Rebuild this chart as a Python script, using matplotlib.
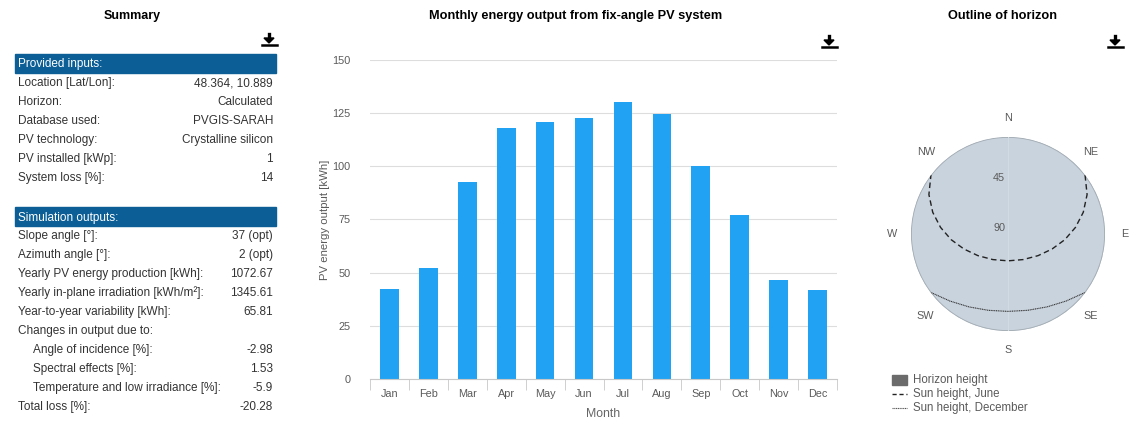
import numpy as np
import matplotlib
matplotlib.use("Agg")
import matplotlib.pyplot as plt
from matplotlib.patches import Polygon, Rectangle
from matplotlib.lines import Line2D

# Figure size in pixels
W, H = 1142, 433

# Monthly PV output [kWh]
months = ['Jan', 'Feb', 'Mar', 'Apr', 'May', 'Jun', 'Jul', 'Aug', 'Sep', 'Oct', 'Nov', 'Dec']
energy = [42.3, 52.2, 92.6, 118.0, 120.8, 122.7, 130.2, 124.6, 100.1, 77.1, 46.5, 41.8]
yticks = [0, 25, 50, 75, 100, 125, 150]

# Summary table
inputs_labels = ['Location [Lat/Lon]:', 'Horizon:', 'Database used:', 'PV technology:',
                 'PV installed [kWp]:', 'System loss [%]:']
inputs_values = ['48.364, 10.889', 'Calculated', 'PVGIS-SARAH', 'Crystalline silicon', '1', '14']
outputs_labels = ['Slope angle [°]:', 'Azimuth angle [°]:', 'Yearly PV energy production [kWh]:',
                  'Yearly in-plane irradiation [kWh/m²]:', 'Year-to-year variability [kWh]:',
                  'Changes in output due to:', 'Angle of incidence [%]:', 'Spectral effects [%]:',
                  'Temperature and low irradiance [%]:', 'Total loss [%]:']
outputs_values = ['37 (opt)', '2 (opt)', '1072.67', '1345.61', '65.81', '',
                  '-2.98', '1.53', '-5.9', '-20.28']
outputs_indent = [0, 0, 0, 0, 0, 0, 1, 1, 1, 0]

# Sun paths (azimuth from north [deg], elevation [deg])
june_az = [52.6, 63.5, 73.9, 84.4, 95.7, 108.8, 125.7, 149.3, 180.0,
           210.7, 234.3, 251.2, 264.3, 275.6, 286.1, 296.5, 307.4]
june_el = [0.0, 8.0, 17.3, 27.1, 37.0, 46.8, 55.6, 62.4, 65.1,
           62.4, 55.6, 46.8, 37.0, 27.1, 17.3, 8.0, 0.0]
dec_az = [127.4, 139.1, 151.9, 165.6, 180.0, 194.4, 208.1, 220.9, 232.6]
dec_el = [0.4, 7.7, 13.3, 16.9, 18.2, 16.9, 13.3, 7.7, 0.4]
compass = ['N', 'NE', 'E', 'SE', 'S', 'SW', 'W', 'NW']
compass_az = [0, 45, 90, 135, 180, 225, 270, 315]

plt.rcParams['font.family'] = ['Liberation Sans', 'DejaVu Sans']

BLUE = '#22a2f2'
HEAD = '#0b5f96'
TXT = '#333333'
GREY = '#5a5a5a'


def fx(x):
    return x / W


def fy(y):
    return 1 - y / H


fig = plt.figure(figsize=(W / 100, H / 100), dpi=100)


# Function: download icon
def download_icon(cx, cy):
    fig.add_artist(Line2D([fx(cx), fx(cx)], [fy(cy - 6), fy(cy - 1)], color='black', lw=2.4))
    fig.add_artist(Polygon([(fx(cx - 5), fy(cy - 2)), (fx(cx + 5), fy(cy - 2)), (fx(cx), fy(cy + 3))],
                           closed=True, color='black', transform=fig.transFigure))
    fig.add_artist(Line2D([fx(cx - 7.5), fx(cx + 7.5)], [fy(cy + 5), fy(cy + 5)], color='black', lw=1.8))


######################## Summary ####################################

fig.text(fx(132), fy(16), 'Summary', ha='center', va='center', fontsize=9, fontweight='bold')
download_icon(269, 40)


def header(y0, text):
    fig.add_artist(Rectangle((fx(15), fy(y0 + 19)), 261 / W, 19 / H, color=HEAD,
                             transform=fig.transFigure))
    fig.text(fx(18), fy(y0 + 10.5), text, ha='left', va='center', fontsize=8.5, color='white')


header(54, 'Provided inputs:')
for i, (lab, val) in enumerate(zip(inputs_labels, inputs_values)):
    y = 83 + 19 * i
    fig.text(fx(18), fy(y), lab, ha='left', va='center', fontsize=8.5, color=TXT)
    fig.text(fx(273), fy(y), val, ha='right', va='center', fontsize=8.5, color=TXT)

header(207, 'Simulation outputs:')
for i, (lab, val) in enumerate(zip(outputs_labels, outputs_values)):
    y = 236 + 19 * i
    fig.text(fx(18 + 15 * outputs_indent[i]), fy(y), lab, ha='left', va='center', fontsize=8.5, color=TXT)
    fig.text(fx(273), fy(y), val, ha='right', va='center', fontsize=8.5, color=TXT)

######################## Monthly bars ####################################

fig.text(fx(576), fy(16), 'Monthly energy output from fix-angle PV system', ha='center', va='center',
         fontsize=9.2, fontweight='bold')
download_icon(829, 42)

ax2 = fig.add_axes([fx(370), fy(379), (837 - 370) / W, (379 - 60) / H])
x = np.arange(len(months))
ax2.bar(x, energy, width=0.48, color=BLUE, zorder=2)
ax2.set_xlim(-0.5, len(months) - 0.5)
ax2.set_ylim(0, 150)
ax2.set_yticks(yticks)
ax2.yaxis.grid(True, color='#dddddd', lw=0.8)
ax2.set_axisbelow(True)
for s in ['top', 'right', 'left']:
    ax2.spines[s].set_visible(False)
ax2.spines['bottom'].set_color('#c8c8c8')
ax2.tick_params(axis='y', length=0, pad=14, labelsize=7.8, labelcolor=GREY)
ax2.set_xticks(x)
ax2.set_xticklabels(months)
ax2.tick_params(axis='x', which='major', length=0, pad=7, labelsize=7.8, labelcolor=GREY)
ax2.set_xticks(np.arange(-0.5, len(months), 1), minor=True)
ax2.tick_params(axis='x', which='minor', length=8, color='#c8c8c8')
ax2.set_xlabel('Month', fontsize=8.8, color='#666666')
ax2.xaxis.set_label_coords(0.5, -0.09)
ax2.set_ylabel('PV energy output [kWh]', fontsize=8.2, color=GREY)
ax2.yaxis.set_label_coords(-0.086, 0.5)

######################## Horizon ####################################

fig.text(fx(1003), fy(16), 'Outline of horizon', ha='center', va='center', fontsize=9.2, fontweight='bold')
download_icon(1115, 42)

ax3 = fig.add_axes([fx(911), fy(331), 194 / W, 194 / H], projection='polar')
ax3.set_theta_zero_location('N')
ax3.set_theta_direction(-1)
ax3.set_axis_off()
ax3.set_rlim(0, 90)
ring = np.linspace(0, 2 * np.pi, 361)
ax3.fill_between(ring, 0, 90, color='#c9d3dd', zorder=0)
ax3.plot(ring, np.full_like(ring, 90), color='#a3abb2', lw=1.2, zorder=1)
ax3.plot([0, 0], [90, 0], color='#d3dbe2', lw=0.8, zorder=1)
ax3.plot([np.pi, np.pi], [0, 90], color='#d3dbe2', lw=0.8, zorder=1)
ax3.plot(np.deg2rad(june_az), 90 - np.array(june_el), ls=(0, (4, 2.5)), color='#222222', lw=1.0, zorder=3)
ax3.plot(np.deg2rad(dec_az), 90 - np.array(dec_el), ls=(0, (1, 0.6)), color='#333333', lw=0.8, zorder=3)
for name, az in zip(compass, compass_az):
    ax3.text(np.deg2rad(az), 108, name, ha='center', va='center', fontsize=7.8, color=GREY, clip_on=False)
ax3.text(np.deg2rad(351), 52.5, '45', ha='center', va='center', fontsize=7.8, color=GREY)
ax3.text(np.deg2rad(304), 10, '90', ha='center', va='center', fontsize=7.8, color=GREY)

# Legend
fig.add_artist(Rectangle((fx(892), fy(385)), 15 / W, 10 / H, color='#6b6b6b', transform=fig.transFigure))
fig.add_artist(Line2D([fx(892), fx(907)], [fy(394), fy(394)], color='#222222', lw=1.0, ls=(0, (3, 2))))
fig.add_artist(Line2D([fx(892), fx(907)], [fy(407.5), fy(407.5)], color='#555555', lw=0.8, ls=(0, (1, 0.6))))
fig.text(fx(913), fy(379.5), 'Horizon height', ha='left', va='center', fontsize=8.3, color=GREY)
fig.text(fx(913), fy(394), 'Sun height, June', ha='left', va='center', fontsize=8.3, color=GREY)
fig.text(fx(913), fy(407.5), 'Sun height, December', ha='left', va='center', fontsize=8.3, color=GREY)

fig.savefig('out.png', dpi=100)
